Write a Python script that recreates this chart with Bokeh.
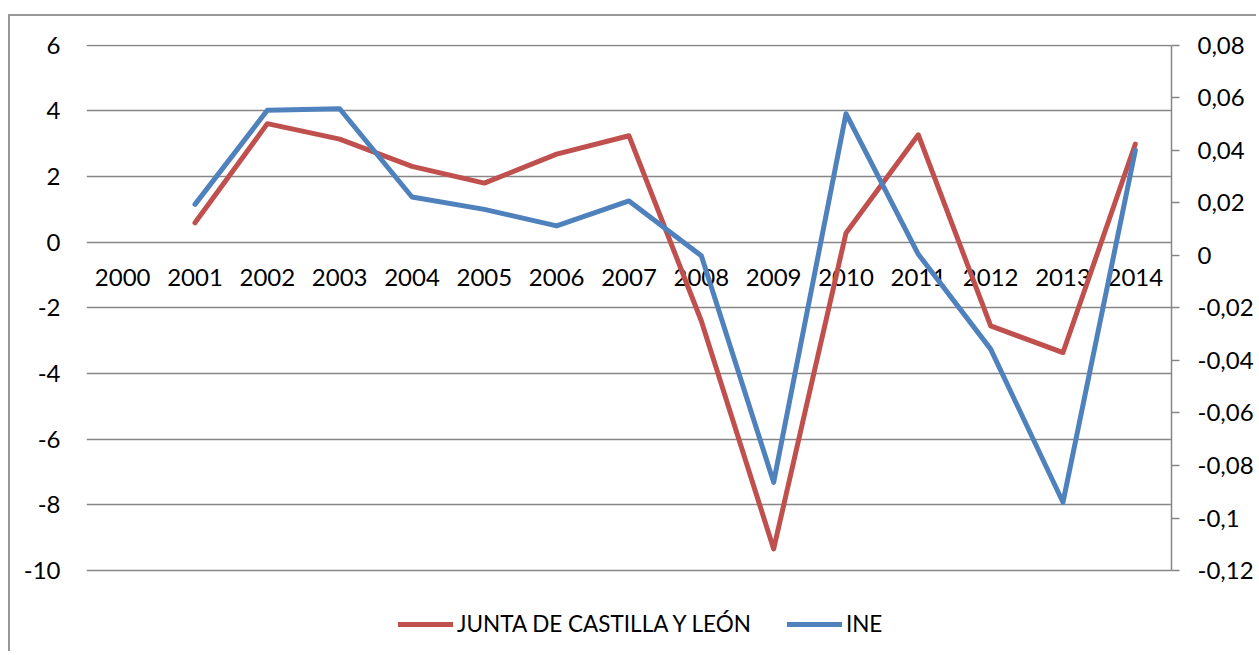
import math
from bokeh.plotting import figure
from bokeh.models import (FactorRange, Range1d, LinearAxis, FixedTicker,
                          CustomJSTickFormatter, Legend, LegendItem, ColumnDataSource)
from bokeh.core.properties import value
from bokeh.embed import file_html
from bokeh.resources import INLINE

years = [str(y) for y in range(2000, 2015)]
junta = [math.nan, 0.59, 3.61, 3.14, 2.31, 1.80, 2.68, 3.24, -2.40, -9.34, 0.28, 3.27, -2.55, -3.36, 2.99]
ine = [math.nan, 0.0194, 0.0552, 0.0558, 0.0222, 0.0175, 0.0112, 0.0207, -0.0002, -0.0864, 0.0539, 0.0004, -0.0357, -0.0940, 0.0400]
left_ticks = [-10, -8, -6, -4, -2, 0, 2, 4, 6]
right_ticks = [round(-0.12 + 0.02 * i, 2) for i in range(11)]

FONT = "Lato"
FS = "24px"
GRID = "#868686"
RED = "#C0504D"
BLUE = "#4F81BD"

# layout (pixels)
FIG_H = 637
TOP = 28
AXIS_PX = 526          # height of the -10..6 span
BELOW_PX = FIG_H - TOP - AXIS_PX   # room under -10 for the legend (inside the frame)

L_LO, L_HI = -10, 6
R_LO, R_HI = -0.12, 0.08
EPS = 0.02
l_per_px = (L_HI - L_LO) / AXIS_PX
r_per_px = (R_HI - R_LO) / AXIS_PX

p = figure(x_range=FactorRange(*years, range_padding=0),
           y_range=Range1d(L_LO - BELOW_PX * l_per_px, L_HI + EPS),
           width=1248, height=FIG_H, output_backend="svg", toolbar_location=None,
           min_border_left=76, min_border_right=87, min_border_top=TOP, min_border_bottom=0)
p.styles = {"border-top": "2px solid #979797", "border-left": "2px solid #979797",
            "margin-top": "14px", "margin-left": "8px"}
p.outline_line_color = None
p.background_fill_color = "white"
p.border_fill_color = "white"

p.extra_y_ranges = {"right": Range1d(R_LO - BELOW_PX * r_per_px, R_HI + EPS * r_per_px / l_per_px)}

# left axis
p.yaxis.ticker = FixedTicker(ticks=left_ticks)
p.yaxis.formatter = CustomJSTickFormatter(code="return Math.round(tick).toString();")
p.yaxis.axis_line_color = None
p.yaxis.major_tick_line_color = None
p.yaxis.major_tick_out = 0
p.yaxis.major_tick_in = 0
p.yaxis.minor_tick_line_color = None
p.yaxis.major_label_standoff = 26
p.yaxis.major_label_text_font = FONT
p.yaxis.major_label_text_font_size = FS
p.yaxis.major_label_text_color = "black"

p.ygrid.ticker = FixedTicker(ticks=left_ticks)
p.ygrid.grid_line_color = GRID
p.ygrid.grid_line_width = 1.5
p.xgrid.grid_line_color = None

p.xaxis.visible = False

# right axis
ra = LinearAxis(y_range_name="right", ticker=FixedTicker(ticks=right_ticks), bounds=(R_LO, R_HI),
                formatter=CustomJSTickFormatter(code="return (Math.round(tick*100)/100).toString().replace('.', ',');"))
ra.axis_line_color = GRID
ra.axis_line_width = 1.5
ra.major_tick_line_color = GRID
ra.major_tick_line_width = 1.5
ra.major_tick_in = -8
ra.major_tick_out = 0
ra.minor_tick_line_color = None
ra.major_label_standoff = 26
ra.major_label_text_font = FONT
ra.major_label_text_font_size = FS
ra.major_label_text_color = "black"
p.add_layout(ra, "right")

# category labels at y = 0
lab = ColumnDataSource(dict(x=years, y=[0] * len(years), t=years))
p.text(x="x", y="y", text="t", source=lab, text_align="center", text_baseline="middle",
       y_offset=35, text_font=value(FONT), text_font_size=FS, text_color="black")

r1 = p.line(years, junta, line_color=RED, line_width=5, line_cap="round", line_join="round")
r2 = p.line(years, ine, y_range_name="right", line_color=BLUE, line_width=5,
            line_cap="round", line_join="round")

legend = Legend(items=[LegendItem(label="JUNTA DE CASTILLA Y LEÓN", renderers=[r1]),
                       LegendItem(label="INE", renderers=[r2])],
                orientation="horizontal", location=(312, 16),
                glyph_width=55, label_standoff=4, spacing=36, padding=0, margin=0,
                border_line_color=None, background_fill_alpha=0,
                label_text_font=FONT, label_text_font_size="22.5px", label_text_color="black")
p.add_layout(legend, "center")

open("out.html", "w").write(file_html(p, INLINE))
